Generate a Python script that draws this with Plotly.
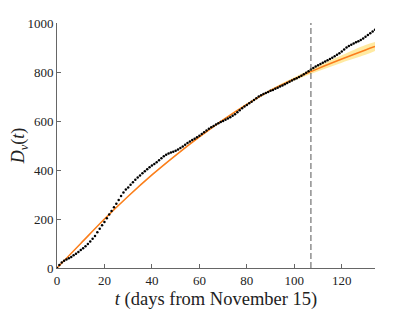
import plotly.graph_objects as go

# observed data (daily)
days = list(range(0, 135))
deaths = [0, 12, 22, 30, 35, 40, 45, 52, 58, 65,
          73, 81, 89, 98, 108, 119, 131, 146, 160, 174,
          188, 203, 218, 233, 248, 262, 278, 294, 308, 320,
          329, 340, 350, 360, 369, 378, 387, 395, 403, 411,
          418, 425, 432, 440, 448, 456, 462, 467, 471, 475,
          479, 484, 490, 496, 503, 510, 516, 522, 528, 534,
          540, 547, 554, 561, 568, 574, 580, 586, 591, 596,
          600, 605, 610, 615, 621, 628, 636, 644, 652, 659,
          665, 672, 679, 686, 693, 700, 705, 710, 714, 718,
          723, 727, 732, 736, 741, 745, 750, 755, 760, 765,
          770, 775, 780, 785, 791, 797, 803, 810, 816, 822,
          828, 833, 838, 843, 848, 853, 858, 864, 870, 877,
          884, 892, 900, 906, 911, 916, 921, 926, 931, 937,
          944, 951, 958, 965, 972]

# fitted curve and its band
fit_t = [0, 10, 20, 30, 40, 50, 60, 70, 80, 90, 100, 110, 120, 130, 134]
fit_mid = [0, 100, 200, 293, 380, 460, 535, 605, 668, 725, 772, 814, 853, 890, 904]
fit_lo = [0, 98, 197, 290, 377, 457, 532, 602, 664, 720, 765, 803, 838, 870, 886]
fit_hi = [0, 102, 203, 296, 383, 463, 538, 608, 672, 730, 779, 825, 868, 910, 922]

cutoff_day = 107

serif = "Liberation Serif"

fig = go.Figure()
fig.add_trace(go.Scatter(x=fit_t, y=fit_hi, mode="lines", line=dict(width=0, shape="spline"),
                         showlegend=False, hoverinfo="skip"))
fig.add_trace(go.Scatter(x=fit_t, y=fit_lo, mode="lines", line=dict(width=0, shape="spline"),
                         fill="tonexty", fillcolor="rgba(255,214,70,0.5)",
                         showlegend=False, hoverinfo="skip"))
fig.add_trace(go.Scatter(x=fit_t, y=fit_mid, mode="lines",
                         line=dict(color="#fb7d1c", width=1.5, shape="spline"),
                         showlegend=False))
fig.add_trace(go.Scatter(x=days, y=deaths, mode="markers",
                         marker=dict(color="black", size=2.5, symbol="circle"),
                         showlegend=False))

fig.add_shape(type="line", x0=cutoff_day, x1=cutoff_day, y0=0, y1=1000,
              xref="x", yref="y", line=dict(color="#555", width=1, dash="6px,3px"))

axis_common = dict(showline=True, linecolor="#666", linewidth=1, ticks="inside",
                   ticklen=4, tickcolor="#666", showgrid=False, zeroline=False,
                   tickfont=dict(family=serif, size=13, color="#222"), mirror=False,
                   automargin=False)

fig.update_xaxes(range=[0, 134], tickvals=[0, 20, 40, 60, 80, 100, 120],
                 title=dict(text="<i>t</i> (days from November 15)",
                            font=dict(family=serif, size=18.5, color="#222"), standoff=5),
                 **axis_common)
fig.update_yaxes(range=[0, 1000], tickvals=[0, 200, 400, 600, 800, 1000],
                 title=dict(text="<i>D<sub>v</sub></i>(<i>t</i>)",
                            font=dict(family=serif, size=18, color="#222"), standoff=6),
                 **axis_common)

# the page body adds an 8px offset, so the figure fills the remaining 407x304 area
fig.update_layout(width=407, height=304, margin=dict(l=49, r=40, t=15, b=44),
                  plot_bgcolor="white", paper_bgcolor="white")

fig.write_html("out.html")
